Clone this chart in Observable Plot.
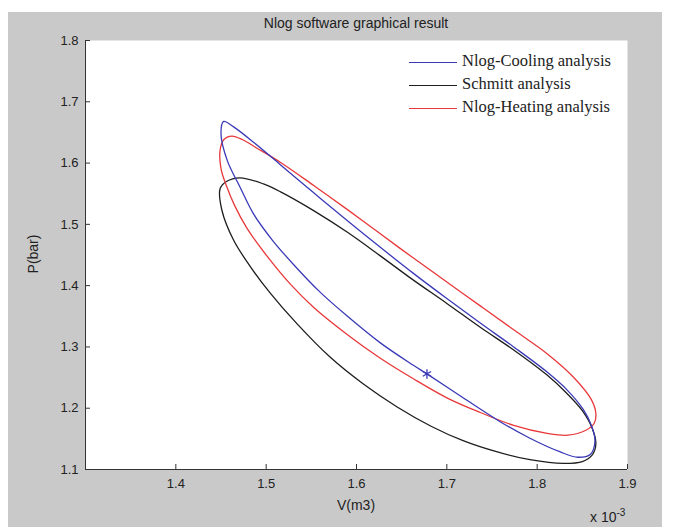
<!DOCTYPE html>
<html><head><meta charset="utf-8">
<script src="https://cdn.jsdelivr.net/npm/d3@7"></script>
<script src="https://cdn.jsdelivr.net/npm/@observablehq/plot@0.6"></script>
<style>
body{margin:0;background:#fff;}
#fig{position:relative;width:674px;height:527px;overflow:hidden;font-family:"Liberation Sans",Arial,sans-serif;color:#222;}
#bg{position:absolute;left:8px;top:12px;width:654px;height:515px;background:#c9c9c9;}
#plot{position:absolute;left:0;top:0;}
#title{position:absolute;left:85px;width:542px;top:15px;text-align:center;font-size:14px;}
#xlab{position:absolute;left:85px;width:542px;top:497px;text-align:center;font-size:14px;}
#ylab{position:absolute;left:33px;top:254px;transform:translate(-50%,-50%) rotate(-90deg);font-size:14px;white-space:nowrap;}
#mult{position:absolute;left:590px;top:507px;font-size:14px;white-space:nowrap;}
#mult sup{font-size:10px;vertical-align:6px;}
.leg{position:absolute;font-family:"Liberation Serif","Times New Roman",serif;font-size:16.5px;white-space:nowrap;}
.legline{position:absolute;height:0;width:48px;}
</style></head>
<body>
<div id="fig">
  <div id="bg"></div>
  <div id="plot"></div>
  <div id="title">Nlog software graphical result</div>
  <div id="xlab">V(m3)</div>
  <div id="ylab">P(bar)</div>
  <div id="mult">x 10<sup>-3</sup></div>
</div>
<script>
// Volume values in units of 10^-3 m3, pressure in bar (closed cycles)
const coolingV = [1.678,1.718,1.759,1.792,1.825,1.845,1.859,1.864,1.860,1.851,1.833,1.811,1.774,1.737,1.700,1.663,1.626,1.590,1.553,1.516,1.486,1.464,1.453,1.450,1.457,1.471,1.486,1.507,1.530,1.560,1.590,1.626,1.663];
const coolingP = [1.256,1.217,1.178,1.151,1.129,1.120,1.125,1.147,1.172,1.198,1.230,1.259,1.300,1.339,1.379,1.420,1.463,1.506,1.551,1.597,1.634,1.659,1.668,1.648,1.604,1.561,1.517,1.474,1.435,1.389,1.350,1.307,1.270];

const schmittV = [1.449,1.451,1.464,1.483,1.505,1.534,1.571,1.608,1.645,1.682,1.718,1.755,1.792,1.829,1.850,1.861,1.865,1.861,1.850,1.833,1.811,1.774,1.737,1.700,1.663,1.626,1.590,1.553,1.516,1.497,1.471,1.456];
const schmittP = [1.558,1.523,1.474,1.430,1.387,1.338,1.283,1.239,1.202,1.171,1.147,1.129,1.116,1.110,1.113,1.124,1.142,1.167,1.196,1.224,1.254,1.295,1.332,1.371,1.409,1.449,1.487,1.522,1.553,1.566,1.576,1.570];

const heatingV = [1.449,1.450,1.456,1.465,1.479,1.501,1.527,1.553,1.590,1.626,1.663,1.700,1.737,1.774,1.811,1.834,1.854,1.863,1.865,1.860,1.840,1.811,1.774,1.737,1.700,1.663,1.626,1.590,1.553,1.516,1.489,1.474,1.462,1.453];
const heatingP = [1.621,1.591,1.563,1.531,1.493,1.448,1.402,1.364,1.320,1.282,1.248,1.217,1.193,1.172,1.159,1.156,1.164,1.175,1.191,1.214,1.251,1.289,1.328,1.367,1.406,1.445,1.485,1.524,1.563,1.601,1.625,1.638,1.644,1.638];

const starV = [1.678];
const starP = [1.256];

const seriesNames = ["Nlog-Cooling analysis", "Schmitt analysis", "Nlog-Heating analysis"];
const seriesColors = ["#3a3ab8", "#1e1e1e", "#e8383a"];

const xTicks = [1.4, 1.5, 1.6, 1.7, 1.8, 1.9];
const yTicks = [1.1, 1.2, 1.3, 1.4, 1.5, 1.6, 1.7, 1.8];

const toRows = (vs, ps) => vs.map((v, i) => ({v, p: ps[i]}));
const cooling = toRows(coolingV, coolingP);
const schmitt = toRows(schmittV, schmittP);
const heating = toRows(heatingV, heatingP);
const star = toRows(starV, starP);

const W = 674, H = 527, mL = 85, mR = 47, mT = 40, mB = 58;
const frameW = W - mL - mR, frameH = H - mT - mB;
const fmt = d3.format(".1f");

const lineOpts = (c) => ({x: "v", y: "p", stroke: c, strokeWidth: 1.3, curve: "catmull-rom-closed"});

const chart = Plot.plot({
  width: W, height: H,
  marginLeft: mL, marginRight: mR, marginTop: mT, marginBottom: mB,
  style: {background: "transparent", fontFamily: "Liberation Sans, Arial, sans-serif", fontSize: "13px", color: "#222"},
  x: {domain: [1.3, 1.9]},
  y: {domain: [1.1, 1.8]},
  marks: [
    Plot.frame({fill: "white", stroke: "none"}),
    Plot.line(schmitt, lineOpts(seriesColors[1])),
    Plot.line(heating, lineOpts(seriesColors[2])),
    Plot.line(cooling, lineOpts(seriesColors[0])),
    Plot.dot(star, {x: "v", y: "p", symbol: "asterisk", r: 4.5, stroke: seriesColors[0], strokeWidth: 1.3}),
    Plot.ruleX([1.3], {stroke: "#333"}),
    Plot.ruleY([1.1], {stroke: "#333"}),
    Plot.tickX(xTicks, {x: d => d, insetTop: frameH - 5, stroke: "#333"}),
    Plot.tickY(yTicks, {y: d => d, insetRight: frameW - 5, stroke: "#333"}),
    Plot.axisX(xTicks, {tickSize: 0, tickPadding: 9, label: null, fill: "#222", tickFormat: fmt}),
    Plot.axisY(yTicks, {tickSize: 0, tickPadding: 7, label: null, fill: "#222", tickFormat: fmt})
  ]
});
document.getElementById("plot").appendChild(chart);

// legend (no box, as in the original)
const fig = document.getElementById("fig");
const legTop = [62, 85, 108];
seriesNames.forEach((name, i) => {
  const ln = document.createElement("div");
  ln.className = "legline";
  ln.style.left = "409px";
  ln.style.top = legTop[i] + "px";
  ln.style.borderTop = `1.4px solid ${seriesColors[i]}`;
  fig.appendChild(ln);
  const tx = document.createElement("div");
  tx.className = "leg";
  tx.style.left = "462px";
  tx.style.top = (legTop[i] - 11) + "px";
  tx.textContent = name;
  fig.appendChild(tx);
});
</script>
</body></html>
